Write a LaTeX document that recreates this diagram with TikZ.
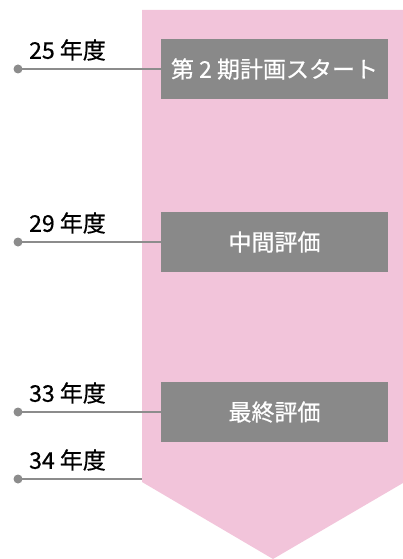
\documentclass[tikz,border=0pt]{standalone}
\usepackage{fontspec}
\setmainfont{Noto Sans CJK JP}[FakeBold=0.6]
\usetikzlibrary{positioning}
\definecolor{arrowpink}{HTML}{F2C4DA}
\definecolor{boxgray}{HTML}{898989}
\definecolor{linegray}{HTML}{8C8C8C}

\begin{document}
\begin{tikzpicture}[x=1pt,y=-1pt,
    stage/.style={fill=boxgray, text=white, minimum width=227pt, minimum height=60pt,
      inner sep=0pt, font=\fontsize{23}{27}\selectfont},
    yearlabel/.style={anchor=west, inner sep=0pt, font=\fontsize{23}{27}\selectfont},
    dot/.style={circle, fill=linegray, inner sep=0pt, minimum size=9pt},
    tie/.style={draw=linegray, line width=2.6pt}]
  \useasboundingbox (0,0) rectangle (403,559);
  % arrow
  \fill[arrowpink] (142,10) -- (403,10) -- (403,483) -- (273,559) -- (142,482) -- cycle;
  \foreach \T/\Y/\L [count=\i] in {第 2 期計画スタート/69/25, 中間評価/242/29, 最終評価/412/33} {
    \node[stage] (stage\i) at (274.5,\Y) {\T};
    \node[dot] (dot\i) at (18,\Y) {};
    \draw[tie] (dot\i.center) -- (stage\i.west);
    \node[yearlabel] (year\i) at ([xshift=11pt,yshift=19pt]dot\i.center) {\L\ 年度};
  }
  \coordinate (edge) at (142,479);
  \node[dot] (dot4) at (18,479) {};
  \draw[tie] (dot4.center) -- (edge);
  \node[yearlabel] (year4) at ([xshift=11pt,yshift=19pt]dot4.center) {34 年度};
\end{tikzpicture}
\end{document}
